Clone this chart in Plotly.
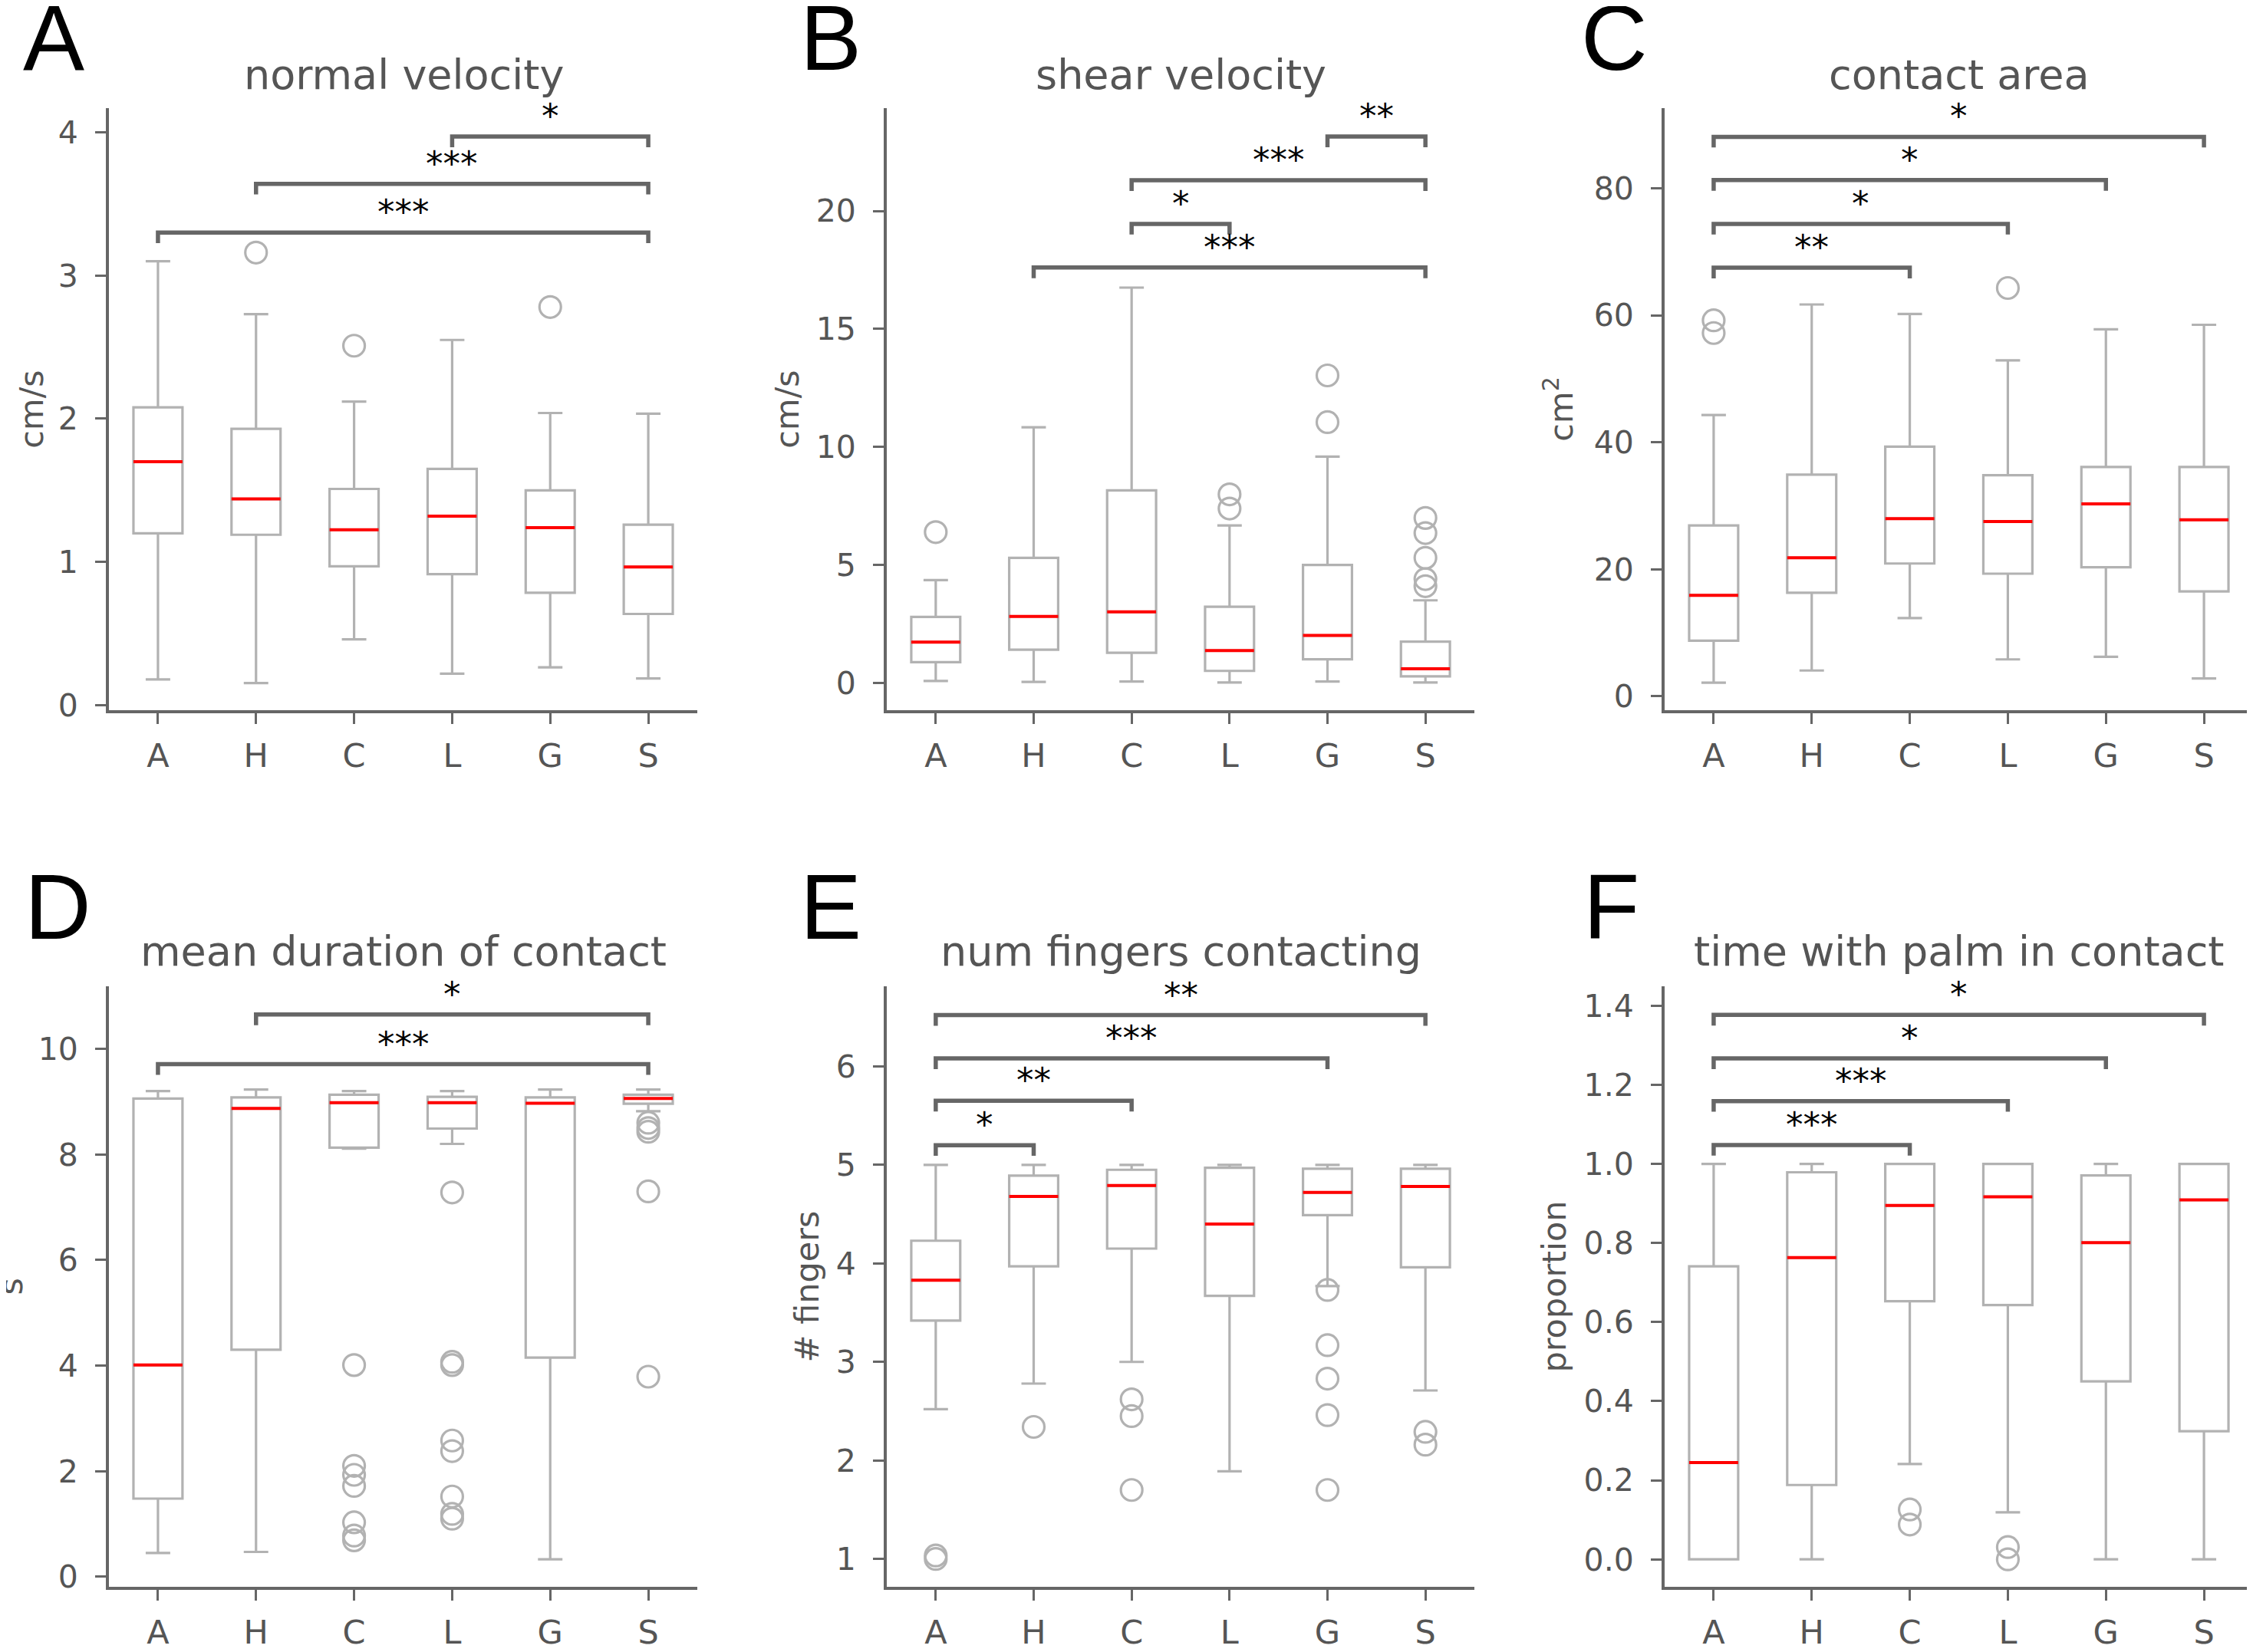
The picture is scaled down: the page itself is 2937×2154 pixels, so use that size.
import plotly.graph_objects as go

PAGE_W, PAGE_H = 2937, 2154
BODY = 8  # default page margin around the plot div
W, H = PAGE_W - BODY, PAGE_H - BODY

CATS = ["A", "H", "C", "L", "G", "S"]

# ---------------- Panel A: normal velocity ----------------
A_title = "normal velocity"
A_ylabel = "cm/s"
A_lo = [0.18, 0.155, 0.46, 0.22, 0.264, 0.187]
A_q1 = [1.20, 1.19, 0.97, 0.915, 0.785, 0.637]
A_med = [1.70, 1.44, 1.225, 1.32, 1.24, 0.965]
A_q3 = [2.08, 1.93, 1.51, 1.65, 1.50, 1.26]
A_hi = [3.10, 2.73, 2.12, 2.55, 2.04, 2.035]
A_out = [[], [3.16], [2.51], [], [2.78], []]
A_ticks = [0, 1, 2, 3, 4]
A_ticktext = ["0", "1", "2", "3", "4"]
A_brk = [(3, 5, 3.97, "*"), (1, 5, 3.64, "***"), (0, 5, 3.30, "***")]

# ---------------- Panel B: shear velocity ----------------
B_title = "shear velocity"
B_ylabel = "cm/s"
B_lo = [0.085, 0.04, 0.06, 0.02, 0.06, 0.02]
B_q1 = [0.88, 1.41, 1.28, 0.51, 1.0, 0.28]
B_med = [1.73, 2.82, 3.01, 1.37, 2.01, 0.60]
B_q3 = [2.80, 5.30, 8.16, 3.23, 5.0, 1.75]
B_hi = [4.36, 10.83, 16.75, 6.67, 9.59, 3.50]
B_out = [[6.39], [], [], [7.99, 7.39], [13.03, 11.05], [6.99, 6.35, 5.30, 4.40, 4.10]]
B_ticks = [0, 5, 10, 15, 20]
B_ticktext = ["0", "5", "10", "15", "20"]
B_brk = [(4, 5, 23.15, "**"), (2, 5, 21.3, "***"), (2, 3, 19.45, "*"), (1, 5, 17.6, "***")]

# ---------------- Panel C: contact area ----------------
C_title = "contact area"
C_ylabel = "cm<sup>2</sup>"
C_lo = [2.14, 4.05, 12.3, 5.8, 6.2, 2.8]
C_q1 = [8.74, 16.3, 20.9, 19.3, 20.3, 16.5]
C_med = [15.9, 21.8, 27.96, 27.5, 30.3, 27.8]
C_q3 = [26.9, 34.9, 39.3, 34.8, 36.1, 36.1]
C_hi = [44.3, 61.7, 60.2, 52.9, 57.8, 58.5]
C_out = [[59.2, 57.2], [], [], [64.3], [], []]
C_ticks = [0, 20, 40, 60, 80]
C_ticktext = ["0", "20", "40", "60", "80"]
C_brk = [(0, 5, 88.1, "*"), (0, 4, 81.3, "*"), (0, 3, 74.4, "*"), (0, 2, 67.5, "**")]

# ---------------- Panel D: mean duration of contact ----------------
D_title = "mean duration of contact"
D_ylabel = "s"
D_lo = [0.45, 0.47, 8.11, 8.20, 0.33, 8.82]
D_q1 = [1.48, 4.30, 8.13, 8.49, 4.15, 8.96]
D_med = [4.01, 8.87, 8.98, 8.98, 8.97, 9.06]
D_q3 = [9.06, 9.08, 9.13, 9.09, 9.08, 9.13]
D_hi = [9.20, 9.23, 9.20, 9.20, 9.23, 9.23]
D_out = [[], [], [4.01, 2.10, 1.93, 1.72, 1.03, 0.78, 0.69],
         [7.28, 4.07, 4.01, 2.58, 2.38, 1.52, 1.19, 1.10], [],
         [8.60, 8.50, 8.43, 7.30, 3.79]]
D_ticks = [0, 2, 4, 6, 8, 10]
D_ticktext = ["0", "2", "4", "6", "8", "10"]
D_brk = [(1, 5, 10.65, "*"), (0, 5, 9.71, "***")]

# ---------------- Panel E: num fingers contacting ----------------
E_title = "num fingers contacting"
E_ylabel = "# fingers"
E_lo = [2.52, 2.78, 3.0, 1.89, 3.77, 2.71]
E_q1 = [3.42, 3.97, 4.15, 3.67, 4.49, 3.96]
E_med = [3.83, 4.68, 4.79, 4.40, 4.72, 4.78]
E_q3 = [4.23, 4.89, 4.95, 4.97, 4.96, 4.96]
E_hi = [5.0, 5.0, 5.0, 5.0, 5.0, 5.0]
E_out = [[1.035, 1.0], [2.34], [2.62, 2.45, 1.70], [], [3.73, 3.17, 2.83, 2.46, 1.70], [2.29, 2.16]]
E_ticks = [1, 2, 3, 4, 5, 6]
E_ticktext = ["1", "2", "3", "4", "5", "6"]
E_brk = [(0, 5, 6.52, "**"), (0, 4, 6.08, "***"), (0, 2, 5.65, "**"), (0, 1, 5.20, "*")]

# ---------------- Panel F: time with palm in contact ----------------
F_title = "time with palm in contact"
F_ylabel = "proportion"
F_lo = [0.0, 0.0, 0.241, 0.119, 0.0, 0.0]
F_q1 = [0.0, 0.188, 0.653, 0.643, 0.45, 0.324]
F_med = [0.245, 0.763, 0.895, 0.917, 0.801, 0.909]
F_q3 = [0.741, 0.979, 1.0, 1.0, 0.971, 1.0]
F_hi = [1.0, 1.0, 1.0, 1.0, 1.0, 1.0]
F_out = [[], [], [0.126, 0.088], [0.031, 0.0], [], []]
F_ticks = [0.0, 0.2, 0.4, 0.6, 0.8, 1.0, 1.2, 1.4]
F_ticktext = ["0.0", "0.2", "0.4", "0.6", "0.8", "1.0", "1.2", "1.4"]
F_brk = [(0, 5, 1.377, "*"), (0, 4, 1.267, "*"), (0, 3, 1.159, "***"), (0, 2, 1.048, "***")]

# ---------------- layout geometry (page pixels) ----------------
ROW1 = (142.6, 933.9)
ROW2 = (1296.5, 2086.7)
panels = [
    dict(letter="A", title=A_title, ylabel=A_ylabel, lo=A_lo, q1=A_q1, med=A_med, q3=A_q3, hi=A_hi,
         out=A_out, ticks=A_ticks, ticktext=A_ticktext, brk=A_brk,
         xpx=(142, 909), ypx=ROW1, yr=(-0.0356, 4.166),
         letter_pos=(70, 49), ylab_x=41, title_y=98),
    dict(letter="B", title=B_title, ylabel=B_ylabel, lo=B_lo, q1=B_q1, med=B_med, q3=B_q3, hi=B_hi,
         out=B_out, ticks=B_ticks, ticktext=B_ticktext, brk=B_brk,
         xpx=(1156, 1922), ypx=ROW1, yr=(-1.16, 24.34),
         letter_pos=(1083, 49), ylab_x=1026, title_y=98),
    dict(letter="C", title=C_title, ylabel=C_ylabel, lo=C_lo, q1=C_q1, med=C_med, q3=C_q3, hi=C_hi,
         out=C_out, ticks=C_ticks, ticktext=C_ticktext, brk=C_brk,
         xpx=(2170, 2937), ypx=ROW1, yr=(-2.22, 92.57),
         letter_pos=(2104, 49), ylab_x=2032, title_y=98),
    dict(letter="D", title=D_title, ylabel=D_ylabel, lo=D_lo, q1=D_q1, med=D_med, q3=D_q3, hi=D_hi,
         out=D_out, ticks=D_ticks, ticktext=D_ticktext, brk=D_brk,
         xpx=(142, 909), ypx=ROW2, yr=(-0.195, 11.19),
         letter_pos=(75, 1192), ylab_x=14, title_y=1251),
    dict(letter="E", title=E_title, ylabel=E_ylabel, lo=E_lo, q1=E_q1, med=E_med, q3=E_q3, hi=E_hi,
         out=E_out, ticks=E_ticks, ticktext=E_ticktext, brk=E_brk,
         xpx=(1156, 1922), ypx=ROW2, yr=(0.715, 6.815),
         letter_pos=(1083, 1192), ylab_x=1052, title_y=1251),
    dict(letter="F", title=F_title, ylabel=F_ylabel, lo=F_lo, q1=F_q1, med=F_med, q3=F_q3, hi=F_hi,
         out=F_out, ticks=F_ticks, ticktext=F_ticktext, brk=F_brk,
         xpx=(2170, 2937), ypx=ROW2, yr=(-0.070, 1.450),
         letter_pos=(2100, 1192), ylab_x=2026, title_y=1251),
]

AXIS_COL = "#666666"
TEXT_COL = "#555555"
BOX_COL = "#b2b2b2"
BRK_COL = "#666666"
FONT = "DejaVu Sans"
BOX_W = 0.5


def fx(p):
    return (p - BODY) / W


def fy(p):
    return 1 - (p - BODY) / H


fig = go.Figure()
annotations = []
layout_axes = {}

for k, p in enumerate(panels):
    n = k + 1
    xa = "x" if n == 1 else f"x{n}"
    ya = "y" if n == 1 else f"y{n}"
    xkey = "xaxis" if n == 1 else f"xaxis{n}"
    ykey = "yaxis" if n == 1 else f"yaxis{n}"
    pos = list(range(len(CATS)))

    # boxes
    fig.add_trace(go.Box(
        x=pos, q1=p["q1"], median=p["med"], q3=p["q3"],
        lowerfence=p["lo"], upperfence=p["hi"],
        width=BOX_W, whiskerwidth=0.5, boxpoints=False,
        line=dict(color=BOX_COL, width=3.2), fillcolor="rgba(0,0,0,0)",
        xaxis=xa, yaxis=ya, hoverinfo="skip", showlegend=False))

    # red medians
    mx, my = [], []
    for i, m in enumerate(p["med"]):
        mx += [i - BOX_W / 2, i + BOX_W / 2, None]
        my += [m, m, None]
    fig.add_trace(go.Scatter(x=mx, y=my, mode="lines", line=dict(color="#ff0000", width=4),
                             xaxis=xa, yaxis=ya, hoverinfo="skip", showlegend=False))

    # outliers
    ox, oy = [], []
    for i, vals in enumerate(p["out"]):
        for v in vals:
            ox.append(i)
            oy.append(v)
    fig.add_trace(go.Scatter(x=ox, y=oy, mode="markers",
                             marker=dict(symbol="circle-open", size=28, color=BOX_COL,
                                         line=dict(width=3.2, color=BOX_COL)),
                             xaxis=xa, yaxis=ya, hoverinfo="skip", showlegend=False))

    # significance brackets
    y0, y1 = p["yr"]
    hpx = p["ypx"][1] - p["ypx"][0]
    drop = 14 * (y1 - y0) / hpx
    for (a, b, lvl, stars) in p["brk"]:
        fig.add_trace(go.Scatter(x=[a, a, b, b], y=[lvl - drop, lvl, lvl, lvl - drop],
                                 mode="lines", line=dict(color=BRK_COL, width=5.5),
                                 xaxis=xa, yaxis=ya, hoverinfo="skip", showlegend=False))
        annotations.append(dict(x=(a + b) / 2, y=lvl, xref=xa, yref=ya, text=stars,
                                showarrow=False, xanchor="center", yanchor="bottom", yshift=-2,
                                font=dict(family=FONT, size=45, color="black")))

    # axes
    layout_axes[xkey] = dict(
        domain=[fx(p["xpx"][0]), min(1.0, fx(p["xpx"][1]))], range=[-0.5, 5.5],
        anchor=ya, tickmode="array", tickvals=pos, ticktext=CATS,
        showline=True, linecolor=AXIS_COL, linewidth=4,
        ticks="outside", ticklen=14, tickwidth=3.3, tickcolor=AXIS_COL,
        showgrid=False, zeroline=False, ticklabelstandoff=4,
        tickfont=dict(family=FONT, size=43, color=TEXT_COL))
    layout_axes[ykey] = dict(
        domain=[fy(p["ypx"][1]), fy(p["ypx"][0])], range=list(p["yr"]),
        anchor=xa, tickmode="array", tickvals=p["ticks"], ticktext=p["ticktext"],
        showline=True, linecolor=AXIS_COL, linewidth=4,
        ticks="outside", ticklen=14, tickwidth=3.3, tickcolor=AXIS_COL,
        showgrid=False, zeroline=False, ticklabelstandoff=14,
        tickfont=dict(family=FONT, size=41, color=TEXT_COL))

    # title
    annotations.append(dict(x=fx((p["xpx"][0] + p["xpx"][1] + 1) / 2), y=fy(p["title_y"]),
                            xref="paper", yref="paper", text=p["title"], showarrow=False,
                            xanchor="center", yanchor="middle",
                            font=dict(family=FONT, size=54, color=TEXT_COL)))
    # y label
    annotations.append(dict(x=fx(p["ylab_x"]), y=fy((p["ypx"][0] + p["ypx"][1]) / 2),
                            xref="paper", yref="paper", text=p["ylabel"], showarrow=False,
                            textangle=-90, xanchor="center", yanchor="middle",
                            font=dict(family=FONT, size=43, color=TEXT_COL)))
    # panel letter
    annotations.append(dict(x=fx(p["letter_pos"][0]), y=fy(p["letter_pos"][1]),
                            xref="paper", yref="paper", text=p["letter"], showarrow=False,
                            xanchor="center", yanchor="middle",
                            font=dict(family="Liberation Sans", size=120, color="black")))

fig.update_layout(
    width=W, height=H,
    margin=dict(l=0, r=0, t=0, b=0),
    paper_bgcolor="white", plot_bgcolor="white",
    showlegend=False,
    annotations=annotations,
    **layout_axes)

fig.write_html("out.html")
